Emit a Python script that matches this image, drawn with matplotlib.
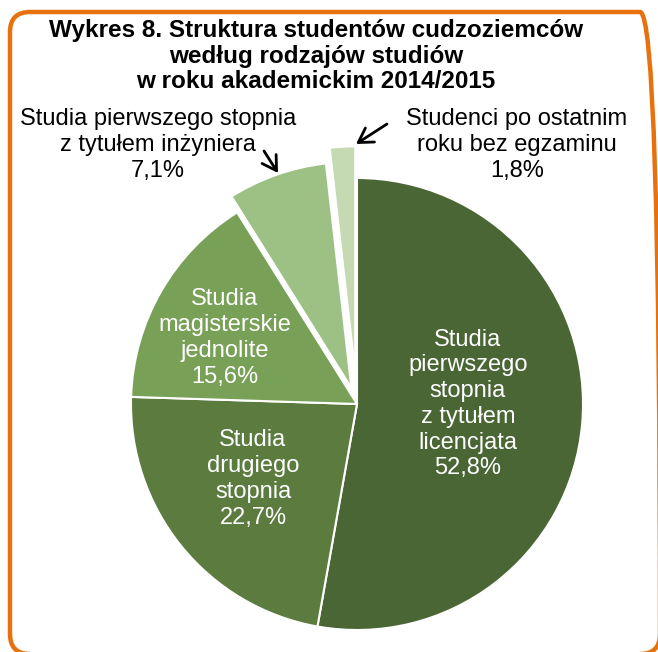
import matplotlib
matplotlib.use("Agg")
import matplotlib.pyplot as plt
from matplotlib.patches import FancyBboxPatch

plt.rcParams['font.family'] = ['Liberation Sans', 'DejaVu Sans']

title = "Wykres 8. Struktura studentów cudzoziemców\nwedług rodzajów studiów\nw roku akademickim 2014/2015"
categories = [
    "Studia\npierwszego\nstopnia\nz tytułem\nlicencjata",
    "Studia\ndrugiego\nstopnia",
    "Studia\nmagisterskie\njednolite",
    "Studia pierwszego stopnia\nz tytułem inżyniera",
    "Studenci po ostatnim\nroku bez egzaminu",
]
values = [52.8, 22.7, 15.6, 7.1, 1.8]
value_labels = ["52,8%", "22,7%", "15,6%", "7,1%", "1,8%"]
colors = ["#4a6634", "#5b7b3f", "#78a057", "#9dc184", "#c5d9b2"]
explode = [0, 0, 0, 0.075, 0.14]

W, H = 658, 652
fig = plt.figure(figsize=(W / 100, H / 100), dpi=100)
ax = fig.add_axes([0, 0, 1, 1])

def py(y):
    return H - y

cx, cy, r = 357, py(404), 226
wedges, _ = ax.pie(values, colors=colors, startangle=90, counterclock=False,
                   center=(cx, cy), radius=r, explode=[e * r for e in explode],
                   wedgeprops=dict(edgecolor="white", linewidth=1.5))
ax.set_xlim(0, W)
ax.set_ylim(0, H)
ax.set_aspect('equal')
ax.axis('off')

# border (right and bottom sides fall just outside the picture)
border = FancyBboxPatch((10, py(654)), 650, 654 - 12,
                        boxstyle="round,pad=0,rounding_size=20",
                        fill=False, edgecolor="#e8710f", linewidth=3.2,
                        transform=ax.transData, clip_on=True)
ax.add_patch(border)

ax.text(316, py(56), title, ha='center', va='center', fontsize=17.5,
        fontweight='bold', linespacing=1.12, color='black')

inside_pos = [(468, 404), (253, 479), (225, 338)]
for i, (x, y) in enumerate(inside_pos):
    ax.text(x, py(y), categories[i] + "\n" + value_labels[i], ha='center',
            va='center', fontsize=17, color='white', linespacing=1.22)

outside_pos = [(158, 145), (517, 145)]
for j, (x, y) in enumerate(outside_pos):
    i = j + 3
    ax.text(x, py(y), categories[i] + "\n" + value_labels[i], ha='center',
            va='center', fontsize=17, color='black', linespacing=1.22)

ax.annotate("", xy=(278, py(173)), xytext=(264, py(151)),
            arrowprops=dict(arrowstyle="->,head_length=0.5,head_width=0.3",
                            color='black', lw=2, shrinkA=0, shrinkB=0,
                            mutation_scale=20))
ax.annotate("", xy=(356, py(144)), xytext=(387, py(124)),
            arrowprops=dict(arrowstyle="->,head_length=0.5,head_width=0.3",
                            color='black', lw=2, shrinkA=0, shrinkB=0,
                            mutation_scale=20))

fig.savefig("out.png", dpi=100)
